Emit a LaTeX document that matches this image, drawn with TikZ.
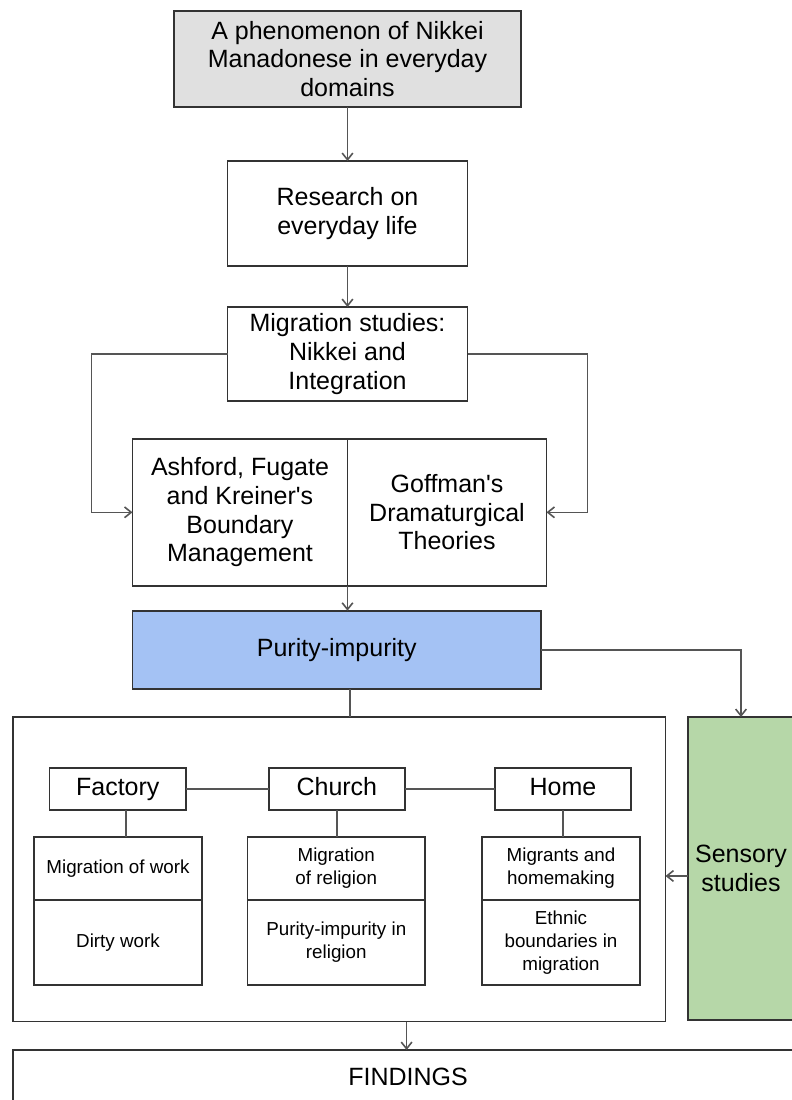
\documentclass[tikz,border=0pt]{standalone}
\usepackage{fontspec}
\setmainfont{Liberation Sans}
\usetikzlibrary{arrows.meta}
\definecolor{bordercol}{HTML}{333333}
\definecolor{linecol}{HTML}{555555}
\definecolor{grayfill}{HTML}{E0E0E0}
\definecolor{bluefill}{HTML}{A4C2F4}
\definecolor{greenfill}{HTML}{B6D7A8}
\begin{document}
\begin{tikzpicture}[x=0.75pt,y=-0.75pt,
  box/.style={draw=bordercol, line width=1.4pt, inner sep=0pt, outer sep=0pt, align=center, font=\fontsize{18.75}{21.5}\selectfont},
  small/.style={box, font=\fontsize{14.1}{17.25}\selectfont},
  head/.style={box, minimum width=102.4pt, minimum height=31.5pt, text height=13.5pt, text depth=3.5pt},
  conn/.style={draw=linecol, line width=1pt},
  arr/.style={conn, -{Straight Barb[length=5pt,width=8pt,line width=1.2pt]}}
]
\useasboundingbox (0,0) rectangle (792,1100);
\clip (0,0) rectangle (792,1100);

\node[box, fill=grayfill, minimum width=260.25pt, minimum height=72pt] (phen) at (347.5,59) {A phenomenon of Nikkei\\Manadonese in everyday\\domains};
\node[box, minimum width=180pt, minimum height=78.75pt] (res) at (347.5,213.5) {Research on\\everyday life};
\node[box, minimum width=180pt, minimum height=70.5pt] (mig) at (347.5,354) {Migration studies:\\Nikkei and\\Integration};
\node[box, minimum width=161.25pt, minimum height=110pt] (ash) at (240,512.3) {Ashford, Fugate\\and Kreiner\textquotesingle s\\Boundary\\Management};
\node[box, minimum width=149.25pt, minimum height=110pt] (gof) at (447,512.3) {Goffman\textquotesingle s\\Dramaturgical\\Theories};
\node[box, fill=bluefill, minimum width=306.4pt, minimum height=58.7pt] (pur) at (336.75,649.85) {Purity-impurity};

\node[box, minimum width=489.4pt, minimum height=228.4pt] (big) at (339.25,869.25) {};
\node[box, fill=greenfill, minimum width=79.5pt, minimum height=227.25pt] (green) at (741,868.5) {Sensory\\studies};

\node[head] (fac) at (117.75,789) {Factory};
\node[head] (chu) at (336.85,789) {Church};
\node[head] (hom) at (563,789) {Home};

\node[small, minimum width=126pt, minimum height=47.25pt] (facA) at (118,868.5) {Migration of work};
\node[small, minimum width=126pt, minimum height=63.75pt] (facB) at (118,942.5) {Dirty work};
\node[small, minimum width=133.1pt, minimum height=47.25pt] (chuA) at (336.25,868.5) {Migration\\of religion};
\node[small, minimum width=133.1pt, minimum height=63.75pt] (chuB) at (336.25,942.5) {Purity-impurity in\\religion};
\node[small, minimum width=118.5pt, minimum height=47.25pt] (homA) at (561,868.5) {Migrants and\\homemaking};
\node[small, minimum width=118.5pt, minimum height=63.75pt] (homB) at (561,942.5) {Ethnic\\boundaries in\\migration};

\node[box, minimum width=592.5pt, minimum height=39.75pt] (find) at (408,1076.5) {FINDINGS};

% connectors
\draw[arr] (phen.south) -- (res.north);
\draw[arr] (res.south) -- (mig.north);
\draw[arr] (mig.west) -- ++(-136,0) |- (ash.west);
\draw[arr] (mig.east) -- ++(120,0) |- (gof.east);
\draw[arr] (ash.south east) -- (ash.south east |- pur.north);
\draw[arr] (pur.east) -| (green.north);
\draw[conn] ([xshift=9.9pt]pur.south) -- ([xshift=9.9pt]pur.south |- big.north);
\draw[arr] ([yshift=-5.6pt]green.west) -- ([yshift=-5.6pt]green.west -| big.east);
\draw[conn] (fac.east) -- (chu.west);
\draw[conn] (chu.east) -- (hom.west);
\draw[conn] ([xshift=6.2pt]fac.south) -- ([xshift=6.2pt]fac.south |- facA.north);
\draw[conn] (chu.south) -- (chu.south |- chuA.north);
\draw[conn] (hom.south) -- (hom.south |- homA.north);
\draw[arr] ([xshift=50.5pt]big.south) -- ([xshift=50.5pt]big.south |- find.north);
\end{tikzpicture}
\end{document}
